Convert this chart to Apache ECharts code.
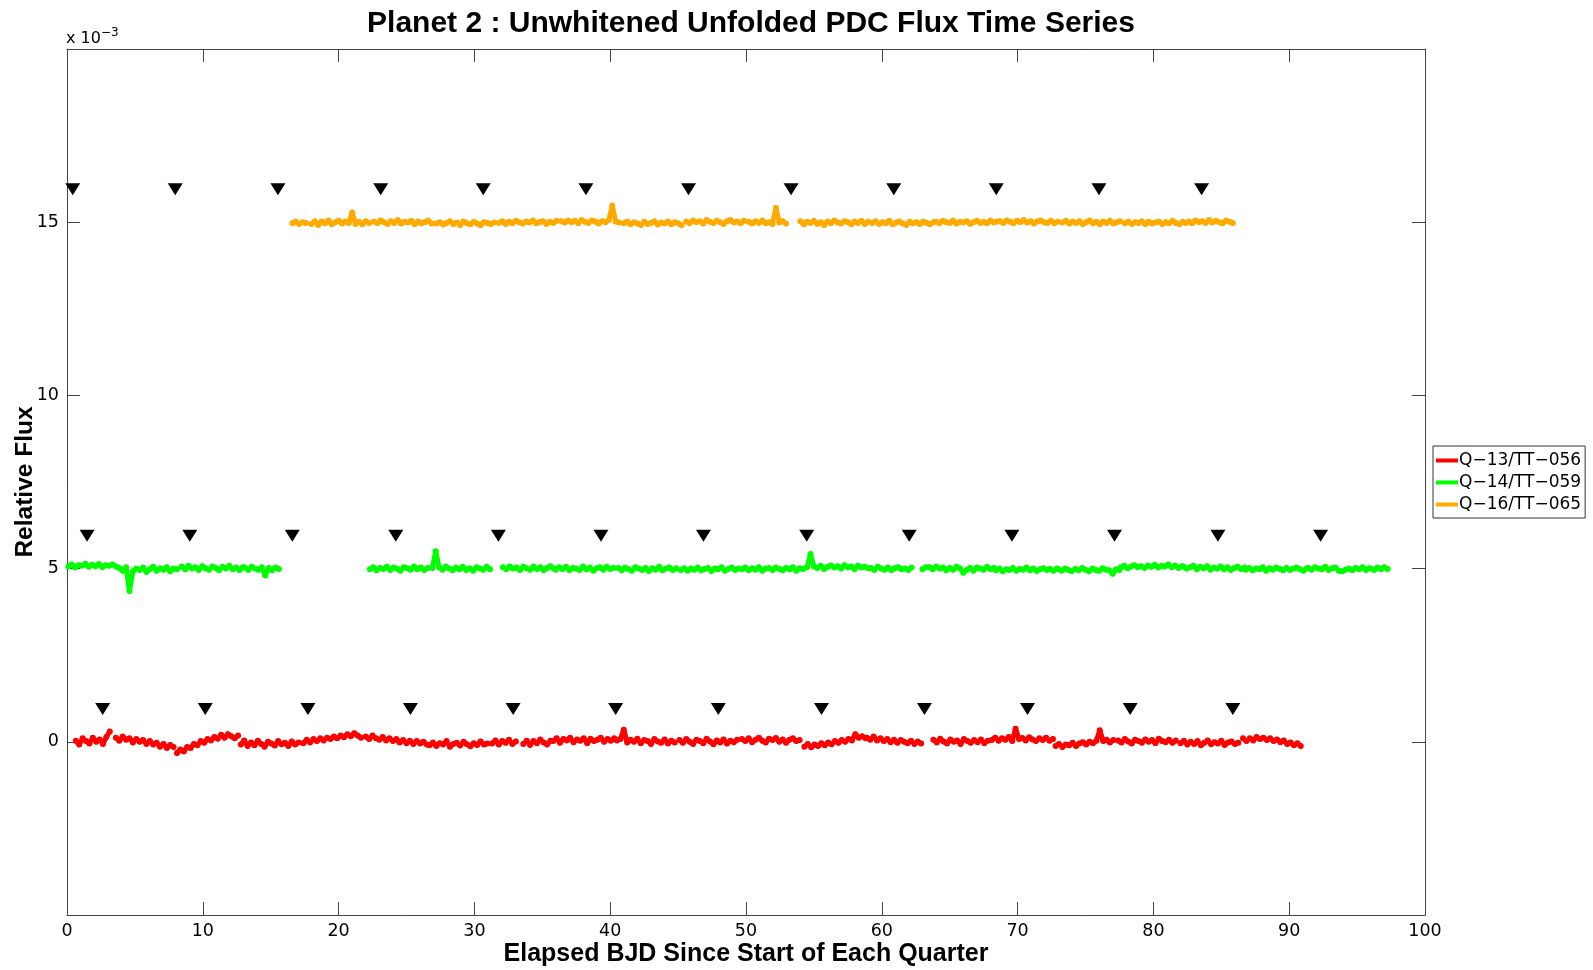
<!DOCTYPE html>
<html>
<head>
<meta charset="utf-8">
<script src="https://cdn.jsdelivr.net/npm/echarts@6/dist/echarts.min.js"></script>
<style>
html,body{margin:0;padding:0;background:#fff;}
#chart{width:1593px;height:970px;}
</style>
</head>
<body>
<div id="chart"></div>
<script>
// ---------------- DATA ----------------
const SERIES_NAMES = ['Q\u221213/TT\u2212056', 'Q\u221214/TT\u2212059', 'Q\u221216/TT\u2212065'];
const SERIES_COLORS = ['#ff0000', '#00ff00', '#ffaa00'];
const OFFSETS = [0, 5, 15];          // plotting offsets (x 10^-3)
const CADENCE = 0.25;                // days between plotted samples
const MARKER_LEVEL = 0.95;           // transit markers above each curve (x 10^-3)

// Q-13 : segment start times (days) and flux deviations (hundredths of 1e-3)
const q13Starts = [0.65, 3.6, 8.1, 12.8, 17.4, 22.0, 26.7, 31.3, 33.6, 35.8, 40.5, 45.1, 49.7, 54.3, 58.9, 63.8, 68.1, 72.8, 77.4, 82.0, 86.6, 87.1];
const q13Flux = [
  [3,-8,10,2,-5,12,0,7,-6,14,30],
  [12,3,15,6,10,-2,8,0,5,-6,2,-8,-3,-14,-6,-18,-9,-15],
  [-32,-22,-28,-15,-18,-6,-10,2,-3,8,4,14,9,20,12,22,16,10,18],
  [-8,4,-12,-2,-10,3,-6,-14,0,-5,-11,2,-7,-3,-12,1,-8,-2],
  [-4,6,-2,8,2,10,4,12,8,15,10,18,13,22,16,25,18,12],
  [15,8,18,10,6,14,4,10,2,8,-2,5,-4,3,-6,2,-5,0,-8],
  [-10,-2,-12,-4,-8,2,-14,-6,-3,-11,0,-7,-13,-4,-9,1,-8,-5],
  [-5,4,-8,2,-3,6,-6,1],
  [-6,3,-9,2,-4,7,-2,-8,3],
  [2,10,-3,8,4,12,-1,7,3,10,-4,9,2,6,12,0,8,3,10],
  [4,8,35,-2,6,0,9,-4,5,2,-6,8,1,-3,7,-5,3,-2],
  [5,-3,8,0,-6,6,2,-4,9,1,-7,4,-2,7,-5,3,-1,6],
  [8,2,10,-1,6,12,3,-2,9,5,11,0,7,-3,6,10,2,5],
  [-14,-6,-16,-8,-12,-4,-10,-2,-7,2,-3,5,0,8,4,22,12,16,10],
  [12,6,15,4,10,2,8,-1,6,-3,5,0,-4,3,-6,1,-5],
  [6,-2,9,1,-5,7,0,4,-6,8,2,-3,5,-1,7,-4,3],
  [5,12,3,10,6,14,2,38,8,11,4,13,7,2,10,5,12,3,8],
  [-12,-6,-15,-8,-10,-3,-12,-5,-1,-8,0,-4,3,33,2,6,-2,5],
  [4,-2,8,1,-5,6,2,-3,7,0,5,-4,9,2,-1,6,-3,4],
  [-4,3,-8,0,-6,2,-10,-3,4,-7,-1,-5,3,-9,-2,1,-6,-3],
  [10,2],
  [10,4,14,8,12,5,10,2,7,-1,4,-6,-2,-10,-4,-12]
];

// Q-14
const q14Starts = [0.1, 3.85, 8.45, 13.1, 22.3, 26.9, 32.1, 36.0, 40.6, 45.2, 49.7, 54.5, 59.2, 63.0, 63.5, 68.4, 73.0, 77.6, 82.2, 86.8, 91.4, 96.0];
const q14Flux = [
  [6,12,3,10,8,14,5,11,7,13,4,10,8,12,6],
  [2,-6,4,-65,-8,0,-4,3,-10,-2,5,-6,1,-3,4,-8,0,-2],
  [6,-2,8,0,4,-4,7,1,-3,6,2,-5,5,0,8,-2,3,-4,4],
  [3,-4,5,0,-3,4,-20,2,-5,3,-1],
  [-2,4,-5,2,-1,5,-4,3,0,-6,4,1,-3,6,-2,3,-4,2],
  [2,50,4,-3,6,0,-5,3,-2,5,-4,1,-6,4,0,-3,5,-2],
  [4,-2,6,0,3,-4,5,1,-3,6,-1,4,-5,2,7,0],
  [-3,4,-1,5,-5,2,0,-4,6,-2,3,-6,1,4,-3,5,-1,2],
  [2,-5,3,-2,-6,4,0,-4,2,-7,1,-3,5,-5,0,3,-4,1],
  [-4,1,-6,0,-3,3,-5,-1,2,-7,0,-2,4,-6,-1,3,-4,0],
  [-2,3,-5,1,-3,4,-6,0,2,-4,3,-1,-5,2,-2,4,-6,1,-1],
  [4,42,6,2,8,-1,5,9,3,7,0,10,4,6,-2,8,3,5,1],
  [2,-4,5,0,-3,3,-5,1,4,-2,0,-4,3],
  [-2,4],
  [4,-2,6,0,3,-5,2,-3,5,1,-12,-4,2,-6,3,0,-3,5,-1,2],
  [-5,0,-8,-2,-4,2,-6,-1,-3,3,-5,0,-7,-2,1,-4,-1,-6,0],
  [-2,-6,0,-4,-7,-1,-5,2,-3,-8,0,-4,-6,1,-3,-5,-15,-2,-4],
  [3,8,1,6,10,4,7,2,9,5,11,3,8,6,12,4,9,2,7],
  [6,0,4,8,-2,5,1,7,-3,3,0,6,-2,4,-4,2,5,-1,3],
  [-3,2,-5,0,-2,4,-6,1,-3,3,-1,-5,2,-4,0,3,-2,-6,1],
  [2,-3,4,0,-2,5,-4,1,3,-6,-8,-3,0,-5,2,-2,4,-4,1],
  [0,-4,3,-2,4,-1]
];

// Q-16
const q16Starts = [16.6, 18.0, 22.6, 27.2, 31.8, 36.4, 41.0, 45.6, 50.2, 54.0, 59.3, 64.0, 68.7, 73.3, 77.9, 82.6];
const q16Flux = [
  [-3,2,-5,0,-2],
  [-5,3,-8,2,-3,5,-6,0,4,-4,2,-2,28,-5,1,-6,3,-2],
  [2,-3,5,0,-5,3,-2,6,-4,1,-1,4,-6,2,-3,0,5,-4],
  [-4,0,-7,-2,3,-5,-1,-8,2,-3,-6,1,-4,-9,0,-2,-5,-1],
  [-2,3,-5,1,-3,4,0,-4,2,-1,5,-3,0,3,-5,1,-2,4],
  [3,-1,5,0,4,-3,6,1,-2,5,2,-4,3,0,6,48,2,-1],
  [-3,2,-6,0,-4,-8,1,-5,-2,3,-7,-1,-4,2,-6,0,-3,-9],
  [2,-3,5,0,3,-4,6,1,-2,4,0,-5,3,6,-1,2,-3,4],
  [1,-4,3,-2,5,-3,0,-5,42,-1,3,-4],
  [3,-6,1,-2,4,-5,0,-8,2,-3,5,-1,-4,3,0,-6,2,-2,4,-5,1],
  [-2,3,-5,0,-3,4,-6,-1,2,-4,-8,1,-3,0,-5,2,-2,-6,0],
  [2,-3,4,0,-2,5,-4,1,-1,3,-5,0,4,-2,1,-3,5,-1,2],
  [3,-2,5,1,-3,4,0,6,-1,3,-4,2,5,0,-2,4,-3,1],
  [-1,4,-4,2,-2,3,-5,0,5,-3,1,-6,2,-2,4,-4,0,3],
  [-3,2,-5,0,-2,3,-6,1,-4,-1,2,-5,0,-3,4,-2,-6,1,-2],
  [2,-3,5,0,3,-2,6,-1,4,0,-3,5,1,-2]
];

// Predicted transit times (days)
const q13Transits = [2.63, 10.18, 17.74, 25.29, 32.85, 40.40, 47.96, 55.56, 63.14, 70.73, 78.29, 85.85];
const q14Transits = [1.48, 9.04, 16.59, 24.21, 31.77, 39.32, 46.87, 54.47, 62.02, 69.58, 77.14, 84.75, 92.31];
const q16Transits = [0.42, 7.97, 15.53, 23.10, 30.65, 38.21, 45.77, 53.32, 60.88, 68.43, 75.99, 83.55];

const X_TICKS = [0, 10, 20, 30, 40, 50, 60, 70, 80, 90, 100];
const Y_TICKS = [0, 5, 10, 15];

// ---------------- BUILD ----------------
function buildCurve(starts, flux, offset) {
  const out = [];
  starts.forEach((s, k) => {
    if (k > 0) out.push([s - 0.05, '-']);
    flux[k].forEach((v, i) => out.push([s + i * CADENCE, offset + v / 100]));
  });
  return out;
}
function buildMarkers(times, offset) {
  return times.map(t => [t, offset + MARKER_LEVEL]);
}
const curves = [
  buildCurve(q13Starts, q13Flux, OFFSETS[0]),
  buildCurve(q14Starts, q14Flux, OFFSETS[1]),
  buildCurve(q16Starts, q16Flux, OFFSETS[2])
];
const markers = [
  buildMarkers(q13Transits, OFFSETS[0]),
  buildMarkers(q14Transits, OFFSETS[1]),
  buildMarkers(q16Transits, OFFSETS[2])
];

const FONT = '"Liberation Sans", Arial, Helvetica, sans-serif';
const TICK_FONT = '"DejaVu Sans", sans-serif';
const AXIS_COLOR = '#444';

const series = [];
curves.forEach((d, k) => {
  series.push({
    name: SERIES_NAMES[k], type: 'line', data: d, xAxisIndex: 0, yAxisIndex: 0,
    showSymbol: true, symbol: 'circle', symbolSize: 6, connectNulls: false, silent: true,
    lineStyle: { color: SERIES_COLORS[k], width: 5, join: 'round', cap: 'round' },
    itemStyle: { color: SERIES_COLORS[k], opacity: 1 }
  });
});
markers.forEach((d, k) => {
  series.push({
    name: 'transits' + k, type: 'scatter', data: d, xAxisIndex: 0, yAxisIndex: 0,
    symbol: 'triangle', symbolRotate: 180, symbolSize: [15, 12], silent: true,
    itemStyle: { color: '#000', opacity: 1 }
  });
});

const chart = echarts.init(document.getElementById('chart'), null, { renderer: 'canvas' });
function axisCommon() {
  return {
    axisLine: { show: true, onZero: false, lineStyle: { color: AXIS_COLOR, width: 1 } },
    axisTick: { show: true, inside: true, length: 13, lineStyle: { color: AXIS_COLOR, width: 1 } },
    splitLine: { show: false }
  };
}
chart.setOption({
  animation: false,
  backgroundColor: '#fff',
  title: {
    text: 'Planet 2 : Unwhitened Unfolded PDC Flux Time Series',
    left: 746, top: 4, textAlign: 'center',
    textStyle: { fontFamily: FONT, fontSize: 30, fontWeight: 'bold', color: '#000' }
  },
  legend: {
    data: SERIES_NAMES, orient: 'vertical', left: 1433, top: 446,
    icon: 'rect', itemWidth: 22, itemHeight: 4, itemGap: 5,
    padding: [6, 4, 5, 3], borderColor: '#333', borderWidth: 1, backgroundColor: '#fff',
    textStyle: { fontFamily: TICK_FONT, fontSize: 17, color: '#000', padding: [0, 0, 0, -4] }
  },
  grid: { left: 67, right: 168, top: 49, bottom: 55, containLabel: false },
  xAxis: [
    Object.assign({ type: 'value', position: 'bottom', min: X_TICKS[0], max: X_TICKS[X_TICKS.length - 1], interval: 10,
      axisLabel: { fontFamily: TICK_FONT, fontSize: 17.5, color: '#000', margin: 7 } }, axisCommon()),
    Object.assign({ type: 'value', position: 'top', min: X_TICKS[0], max: X_TICKS[X_TICKS.length - 1], interval: 10,
      axisLabel: { show: false } }, axisCommon())
  ],
  yAxis: [
    Object.assign({ type: 'value', position: 'left', min: -5, max: 20, interval: 5,
      axisLabel: { fontFamily: TICK_FONT, fontSize: 17.5, color: '#000', margin: 8, showMinLabel: false, showMaxLabel: false,
        formatter: v => (Y_TICKS.indexOf(v) >= 0 ? String(v) : '') } }, axisCommon()),
    Object.assign({ type: 'value', position: 'right', min: -5, max: 20, interval: 5,
      axisLabel: { show: false } }, axisCommon())
  ],
  graphic: [
    { type: 'text', x: 746, y: 954, style: { text: 'Elapsed BJD Since Start of Each Quarter', fontFamily: FONT, fontSize: 25, fontWeight: 'bold', fill: '#000', align: 'center', verticalAlign: 'middle' } },
    { type: 'text', x: 25, y: 482, rotation: Math.PI / 2, style: { text: 'Relative Flux', fontFamily: FONT, fontSize: 24.5, fontWeight: 'bold', fill: '#000', align: 'center', verticalAlign: 'middle' } },
    { type: 'text', x: 66, y: 47, style: { text: '{a|x 10}{b|\u22123}', fontFamily: TICK_FONT, fill: '#000', verticalAlign: 'bottom',
        rich: { a: { fontSize: 16, fontFamily: TICK_FONT, verticalAlign: 'bottom' }, b: { fontSize: 12, fontFamily: TICK_FONT, verticalAlign: 'top', padding: [0, 0, 8, 0] } } } }
  ],
  series: series
});
</script>
</body>
</html>
